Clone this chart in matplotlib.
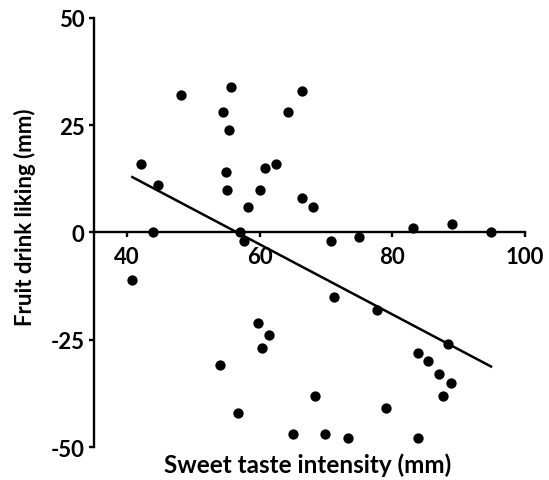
import numpy as np
import matplotlib
matplotlib.use('Agg')
import matplotlib.pyplot as plt

# sweet taste intensity (mm) vs fruit drink liking (mm)
sweet = [48.1, 42.1, 44.6, 43.9, 40.8,
         55.7, 54.4, 55.4, 66.4, 64.3, 55.0, 60.8, 62.4, 55.1, 60.0,
         58.2, 66.4, 68.1, 57.1, 57.6, 70.7, 75.0, 83.1, 89.0, 94.9,
         71.2, 77.7, 59.7, 61.4, 60.3, 88.4, 83.9, 85.4, 87.1, 88.9,
         87.6, 54.0, 68.4, 56.7, 79.1, 65.0, 69.9, 73.4, 83.9]
liking = [32, 16, 11, 0, -11,
          34, 28, 24, 33, 28, 14, 15, 16, 10, 10,
          6, 8, 6, 0, -2, -2, -1, 1, 2, 0,
          -15, -18, -21, -24, -27, -26, -28, -30, -33, -35,
          -38, -31, -38, -42, -41, -47, -47, -48, -48]

xticks = [40, 60, 80, 100]
yticks = [-50, -25, 0, 25, 50]

plt.rcParams['font.family'] = ['Lato', 'DejaVu Sans']
plt.rcParams['font.weight'] = 'bold'
plt.rcParams['axes.unicode_minus'] = False

fig = plt.figure(figsize=(5.49, 4.81), dpi=100)
ax = fig.add_axes([0.171, 0.0686, 0.785, 0.892])

ax.scatter(sweet, liking, s=55, color='black', zorder=3, linewidths=0)

# linear fit over the data range
k, b = np.polyfit(sweet, liking, 1)
xx = np.array([min(sweet), max(sweet)])
ax.plot(xx, k*xx + b, color='black', lw=1.8)

ax.set_xlim(35, 100)
ax.set_ylim(-50, 50)
ax.set_xticks(xticks)
ax.set_yticks(yticks)
ax.spines['top'].set_visible(False)
ax.spines['right'].set_visible(False)
ax.spines['bottom'].set_position(('data', 0))
for s in ['left', 'bottom']:
  ax.spines[s].set_linewidth(1.7)
ax.tick_params(width=1.7, length=3.6, labelsize=16)
ax.tick_params(axis='x', pad=6)
ax.tick_params(axis='y', pad=3)

ax.set_xlabel('Sweet taste intensity (mm)', fontsize=17.5, fontweight='bold')
ax.set_ylabel('Fruit drink liking (mm)', fontsize=16, fontweight='bold')
ax.xaxis.set_label_coords(0.497, -0.04)
ax.yaxis.set_label_coords(-0.16, 0.537)
ax.xaxis.label.set_va('center')
ax.yaxis.label.set_va('center')

fig.savefig('out.png', dpi=100)
